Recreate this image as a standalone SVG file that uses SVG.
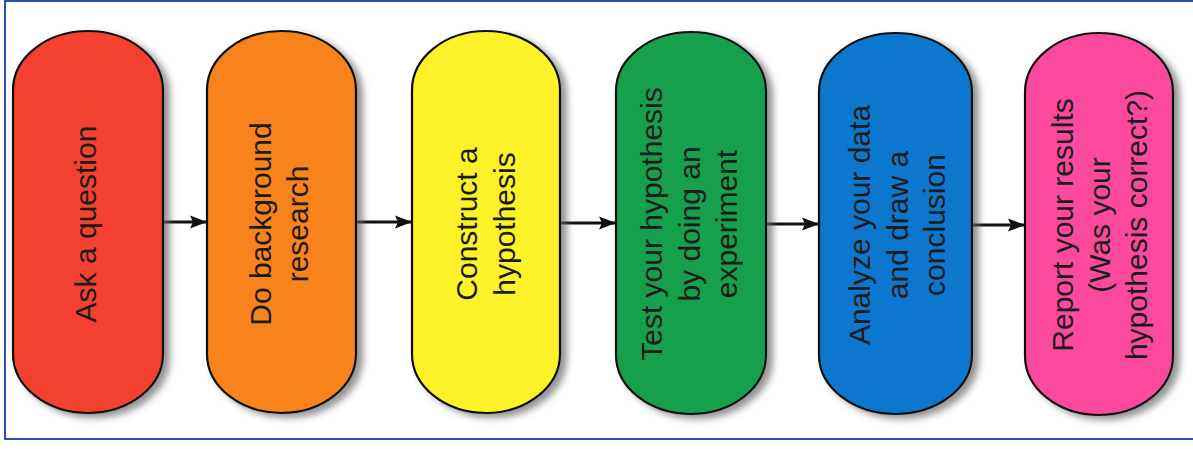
<svg xmlns="http://www.w3.org/2000/svg" width="1193" height="451" viewBox="0 0 1193 451">
  <style>
    .pill { stroke: #111; stroke-width: 2.2; filter: url(#shadow); }
    .lbl { font-family: "Liberation Sans", Arial, sans-serif; font-size: 30px; fill: #1c1c1c; text-anchor: middle; }
    .conn { stroke: #111; stroke-width: 3; fill: none; marker-end: url(#arrow); }
  </style>
  <defs>
    <filter id="shadow" x="-20%" y="-10%" width="150%" height="130%">
      <feDropShadow dx="6" dy="4" stdDeviation="3.5" flood-color="#666" flood-opacity="0.7"/>
    </filter>
    <marker id="arrow" markerUnits="userSpaceOnUse" markerWidth="18" markerHeight="14" refX="17" refY="7" orient="auto">
      <path d="M0,0.5 L17,7 L0,13.5 L3,7 Z" fill="#111"/>
    </marker>
  </defs>
  <rect width="1193" height="451" fill="#ffffff"/>
  <rect x="5" y="1" width="1200" height="438" fill="none" stroke="#2f4fa8" stroke-width="2"/>

  <g id="connectors">
    <line class="conn" x1="163" y1="222" x2="207" y2="222"/>
    <line class="conn" x1="356" y1="222" x2="412" y2="222"/>
    <line class="conn" x1="560" y1="223" x2="616" y2="223"/>
    <line class="conn" x1="766" y1="224" x2="819" y2="224"/>
    <line class="conn" x1="972" y1="225" x2="1025" y2="225"/>
  </g>

  <g id="n1">
    <path class="pill" fill="#f43f2e" d="M13,90 A75,59 0 0 1 163,90 L163,354 A75,59 0 0 1 13,354 Z"/>
    <text class="lbl" transform="translate(96,224) rotate(-90)">Ask a question</text>
  </g>
  <g id="n2">
    <path class="pill" fill="#f8821f" d="M207,90 A74.5,59 0 0 1 356,90 L356,354 A74.5,59 0 0 1 207,354 Z"/>
    <text class="lbl" transform="translate(271,224) rotate(-90)">Do background</text>
    <text class="lbl" transform="translate(308,224) rotate(-90)">research</text>
  </g>
  <g id="n3">
    <path class="pill" fill="#fdf22b" d="M412,90 A74,59 0 0 1 560,90 L560,354 A74,59 0 0 1 412,354 Z"/>
    <text class="lbl" transform="translate(477,224) rotate(-90)">Construct a</text>
    <text class="lbl" transform="translate(515,224) rotate(-90)">hypothesis</text>
  </g>
  <g id="n4">
    <path class="pill" fill="#18a04c" d="M616,91 A75,59 0 0 1 766,91 L766,355 A75,59 0 0 1 616,355 Z"/>
    <text class="lbl" transform="translate(662,224) rotate(-90)">Test your hypothesis</text>
    <text class="lbl" transform="translate(700,224) rotate(-90)">by doing an</text>
    <text class="lbl" transform="translate(737,224) rotate(-90)">experiment</text>
  </g>
  <g id="n5">
    <path class="pill" fill="#0f77cd" d="M819,92 A76.5,59 0 0 1 972,92 L972,355 A76.5,59 0 0 1 819,355 Z"/>
    <text class="lbl" transform="translate(870,225) rotate(-90)">Analyze your data</text>
    <text class="lbl" transform="translate(908,225) rotate(-90)">and draw a</text>
    <text class="lbl" transform="translate(945,225) rotate(-90)">conclusion</text>
  </g>
  <g id="n6">
    <path class="pill" fill="#fb4a9c" d="M1025,92 A74,59 0 0 1 1173,92 L1173,356 A74,59 0 0 1 1025,356 Z"/>
    <text class="lbl" transform="translate(1073,225) rotate(-90)">Report your results</text>
    <text class="lbl" transform="translate(1110,225) rotate(-90)">(Was your</text>
    <text class="lbl" transform="translate(1147,225) rotate(-90)">hypothesis correct?)</text>
  </g>
</svg>
